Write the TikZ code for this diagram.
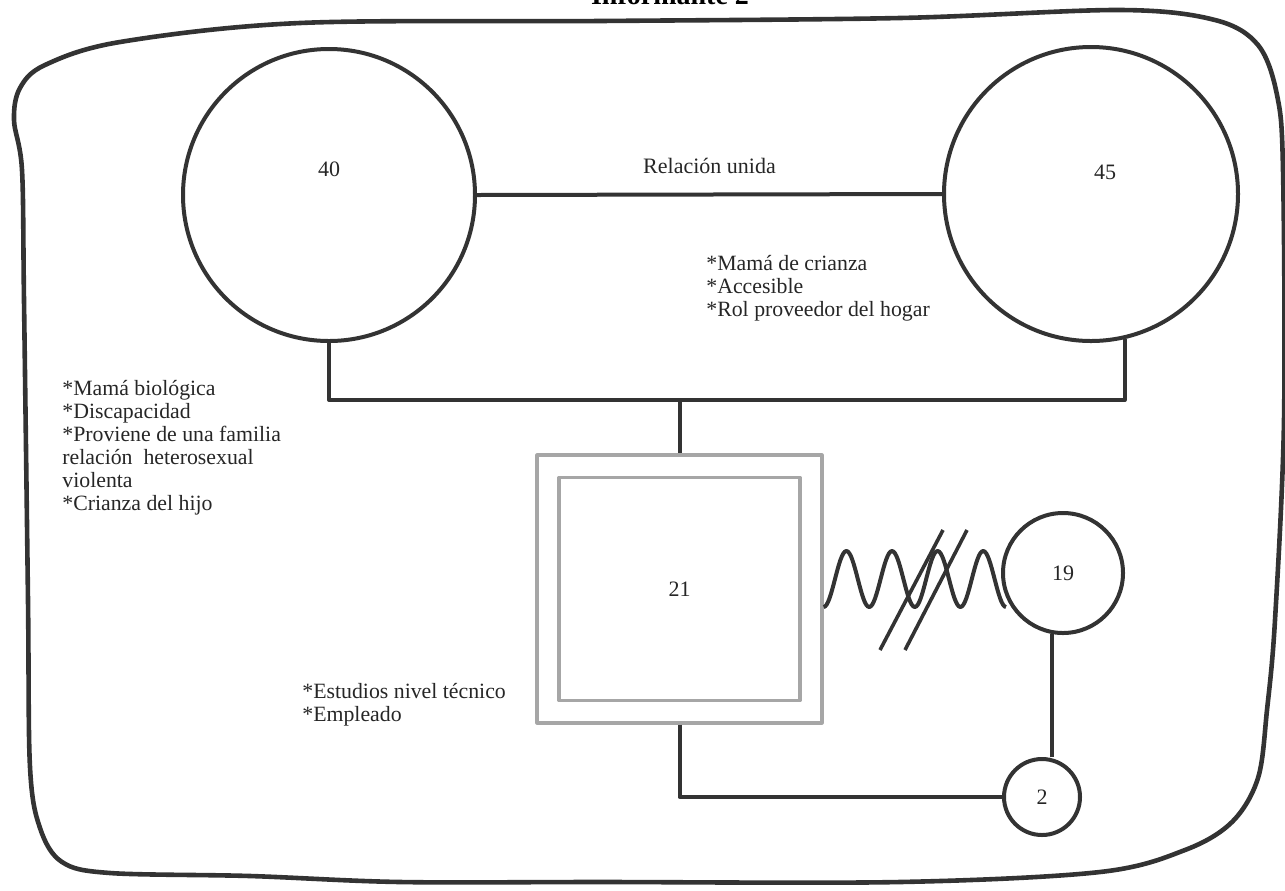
\documentclass[tikz,border=0pt]{standalone}
\usepackage{fontspec}
\setmainfont{Liberation Serif}
\begin{document}
\begin{tikzpicture}[
    x=0.5pt, y=-0.5pt,
    line join=round,
    person/.style={
      draw=black!80, line width=2pt, circle, inner sep=0pt
    },
    num/.style={font=\fontsize{11}{13}\selectfont, text=black!85},
    link/.style={draw=black!80, line width=2pt},
    frame/.style={draw=black!80, line width=2.3pt},
    hijobox/.style={draw=gray!70, line width=1.6pt, inner sep=0pt},
    note/.style={
      font=\fontsize{10.9}{11.5}\selectfont, align=left,
      anchor=north west, inner sep=0pt, text=black!85
    },
  ]
  \useasboundingbox (0,0) rectangle (1285,890);

  % --- Title (cut at the top edge) ---
  \node[font=\fontsize{14}{16}\selectfont\bfseries, anchor=base] (titulo) at (670,4) {Informante 2};

  % --- Outer frame ---
  \draw[frame] plot[smooth cycle, tension=0.55] coordinates {
    (300,23) (600,21) (900,18) (1120,10) (1215,20) (1258,45) (1277,95)
    (1283,170) (1284,420) (1275,620) (1267,710) (1258,778) (1232,822)
    (1185,850) (1100,872) (900,882) (600,882) (400,882) (250,876)
    (110,873) (62,862) (40,828) (30,767) (28,600) (24,300) (22,170)
    (14,120) (20,88) (45,65) (120,42)
  };

  % --- Parents ---
  \node[person, minimum size=146pt] (p40) at (329,195) {};
  \node[num] at ([yshift=13pt]p40.center) {40};
  \node[person, minimum size=147pt] (p45) at (1091,194) {};
  \node[num] at ([xshift=7pt, yshift=11pt]p45.center) {45};

  \draw[link] (p40.east) -- node[midway, above=6pt, num] (rel) {Relación unida} (p45.west);

  \coordinate (bar) at (0,400);
  \draw[link] (p40.south) -- (p40.south |- bar) -- (p45.-77 |- bar) -- (p45.-77);

  % --- Informant ---
  \node[hijobox, minimum width=142.5pt, minimum height=134pt] (box) at (679.5,589) {};
  \node[hijobox, minimum width=120.5pt, minimum height=111.5pt, num] (boxin) at (box.center) {21};
  \draw[link] (box.north |- bar) -- (box.north);

  % --- Partner and child ---
  \node[person, minimum size=60pt, num] (c19) at (1063,573) {19};
  \node[person, minimum size=38pt, num] (c2) at (1042,797) {2};

  \draw[link] ([yshift=-9pt]box.east) coordinate (wa)
    \foreach \k in {1,...,4} {
      cos ++(11.4,-28) sin ++(11.4,-28) cos ++(11.4,28) sin ++(11.4,28)
    };
  \draw[link, line width=1.8pt] (880,650) -- (943,530);
  \draw[link, line width=1.8pt] (905,650) -- (967,530);

  \draw[link] (c19.-100) -- (c19.-100 |- c2.north);
  \draw[link] (box.south) |- (c2.west);

  % --- Notes ---
  \node[note] (nota40) at (62,380) {*Mamá biológica\\*Discapacidad\\*Proviene de una familia\\relación\ \ heterosexual\\violenta\\*Crianza del hijo};
  \node[note] (nota45) at (706,255) {*Mamá de crianza\\*Accesible\\*Rol proveedor del hogar};
  \node[note] (nota21) at (302,683) {*Estudios nivel técnico\\*Empleado};
\end{tikzpicture}
\end{document}
